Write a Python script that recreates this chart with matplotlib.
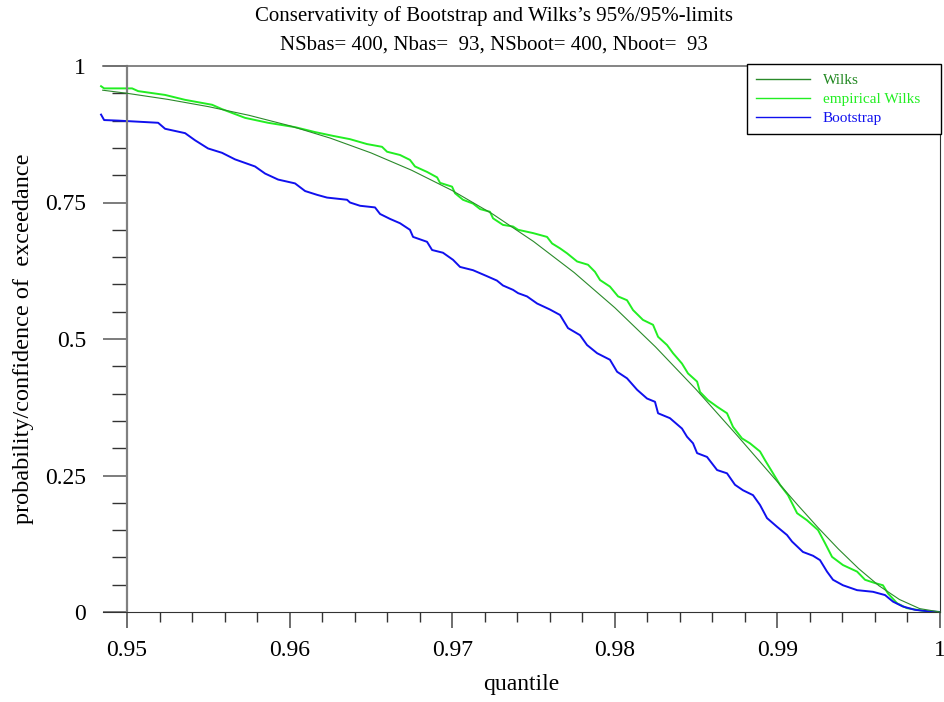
import matplotlib
matplotlib.use("Agg")
import matplotlib.pyplot as plt
from matplotlib.ticker import MultipleLocator, FixedLocator

plt.rcParams['font.family'] = ['Liberation Serif', 'DejaVu Serif']

# Wilks curve
wilks_q = [0.9485, 0.95, 0.9525, 0.955, 0.9575, 0.96, 0.9625, 0.965, 0.9675,
           0.97, 0.9725, 0.975, 0.9775, 0.98, 0.9825, 0.985, 0.9875, 0.99,
           0.99125, 0.9925, 0.99375, 0.995, 0.99625, 0.9975, 0.99875, 1.0]
wilks_p = [0.9557, 0.9500, 0.9389, 0.9256, 0.9097, 0.8906, 0.8679, 0.8409, 0.8091,
           0.7719, 0.7286, 0.6786, 0.6217, 0.5573, 0.4856, 0.4075, 0.3241, 0.2384,
           0.1959, 0.1545, 0.1154, 0.0794, 0.0480, 0.0230, 0.0062, 0.0]

emp_q = [0.9484, 0.94859, 0.95031, 0.95068, 0.95234, 0.95357, 0.95523, 0.95584,
         0.95726, 0.95867, 0.96033, 0.96156, 0.96267, 0.96371, 0.96476, 0.96568,
         0.96599, 0.96679, 0.96740, 0.96771, 0.96845, 0.96907, 0.96925, 0.96999,
         0.97017, 0.97066, 0.97128, 0.97171, 0.97232, 0.97251, 0.97312, 0.97374,
         0.97405, 0.97497, 0.97583, 0.97614, 0.97663, 0.97706, 0.97768, 0.97835,
         0.97878, 0.97909, 0.97970, 0.98020, 0.98075, 0.98112, 0.98173, 0.98235,
         0.98266, 0.98321, 0.98358, 0.98413, 0.98450, 0.98506, 0.98524, 0.98573,
         0.98629, 0.98690, 0.98727, 0.98782, 0.98831, 0.98893, 0.98924, 0.98967,
         0.99016, 0.99065, 0.99121, 0.99182, 0.99250, 0.99293, 0.99336, 0.99403,
         0.99490, 0.99539, 0.99600, 0.99649, 0.99680, 0.99736, 0.99797, 0.99920, 1.0]
emp_p = [0.963, 0.959, 0.959, 0.954, 0.947, 0.938, 0.929, 0.921,
         0.905, 0.896, 0.888, 0.879, 0.872, 0.866, 0.857, 0.852,
         0.843, 0.837, 0.828, 0.816, 0.806, 0.796, 0.786, 0.779,
         0.767, 0.755, 0.748, 0.738, 0.733, 0.721, 0.709, 0.706,
         0.700, 0.694, 0.687, 0.675, 0.666, 0.657, 0.642, 0.636,
         0.623, 0.608, 0.596, 0.578, 0.571, 0.553, 0.535, 0.526,
         0.504, 0.489, 0.474, 0.455, 0.437, 0.422, 0.403, 0.388,
         0.376, 0.364, 0.339, 0.318, 0.309, 0.294, 0.278, 0.257,
         0.233, 0.214, 0.181, 0.168, 0.150, 0.126, 0.101, 0.086,
         0.074, 0.059, 0.053, 0.049, 0.034, 0.016, 0.007, 0.001, 0.0]

boot_q = [0.9484, 0.94859, 0.94945, 0.95191, 0.95234, 0.95357, 0.95418, 0.95498,
          0.95584, 0.95664, 0.95787, 0.95849, 0.95929, 0.96033, 0.96095, 0.96169,
          0.96230, 0.96292, 0.96353, 0.96371, 0.96433, 0.96525, 0.96556, 0.96617,
          0.96679, 0.96740, 0.96759, 0.96845, 0.96876, 0.96943, 0.97005, 0.97048,
          0.97128, 0.97214, 0.97275, 0.97312, 0.97374, 0.97405, 0.97460, 0.97522,
          0.97601, 0.97663, 0.97712, 0.97786, 0.97829, 0.97891, 0.97970, 0.98014,
          0.98075, 0.98137, 0.98198, 0.98247, 0.98266, 0.98339, 0.98413, 0.98444,
          0.98481, 0.98506, 0.98567, 0.98629, 0.98690, 0.98739, 0.98788, 0.98850,
          0.98893, 0.98936, 0.98998, 0.99059, 0.99090, 0.99157, 0.99219, 0.99262,
          0.99305, 0.99342, 0.99403, 0.99490, 0.99588, 0.99662, 0.99711, 0.99772,
          0.99846, 0.99939, 1.0]
boot_p = [0.911, 0.901, 0.900, 0.896, 0.885, 0.877, 0.864, 0.849,
          0.841, 0.829, 0.816, 0.803, 0.792, 0.785, 0.771, 0.764,
          0.759, 0.757, 0.755, 0.750, 0.744, 0.741, 0.729, 0.720,
          0.712, 0.700, 0.687, 0.678, 0.663, 0.658, 0.645, 0.632,
          0.626, 0.615, 0.607, 0.598, 0.590, 0.584, 0.578, 0.565,
          0.554, 0.544, 0.520, 0.507, 0.489, 0.474, 0.462, 0.440,
          0.428, 0.407, 0.391, 0.385, 0.364, 0.355, 0.336, 0.321,
          0.309, 0.291, 0.284, 0.260, 0.254, 0.233, 0.223, 0.214,
          0.196, 0.172, 0.156, 0.141, 0.129, 0.110, 0.103, 0.095,
          0.074, 0.059, 0.049, 0.040, 0.037, 0.031, 0.019, 0.010,
          0.004, 0.001, 0.0]

x_major = [0.95, 0.96, 0.97, 0.98, 0.99, 1.0]
x_labels = ["0.95", "0.96", "0.97", "0.98", "0.99", "1"]
y_major = [0, 0.25, 0.5, 0.75, 1]
y_labels = ["0", "0.25", "0.5", "0.75", "1"]

fig = plt.figure(figsize=(9.45, 7.02), dpi=100)
ax = fig.add_axes([103 / 945, 1 - 612 / 702, 837 / 945, 546 / 702])

ax.plot(wilks_q, wilks_p, color="#2a8a2a", lw=0.8, label="Wilks", clip_on=False, zorder=3)
ax.plot(emp_q, emp_p, color="#22ee22", lw=1.4, label="empirical Wilks   ", clip_on=False, zorder=2)
ax.plot(boot_q, boot_p, color="#1010ee", lw=1.4, label="Bootstrap", clip_on=False, zorder=2)

ax.set_xlim(0.94852, 1.0)
ax.set_ylim(0, 1)

ax.spines['left'].set_position(('data', 0.95))
ax.spines['left'].set_color("#808080")
ax.spines['left'].set_linewidth(1.6)
ax.spines['top'].set_color("#707070")
ax.spines['top'].set_linewidth(1.2)
ax.spines['bottom'].set_color("#333333")
ax.spines['right'].set_color("#333333")

ax.xaxis.set_major_locator(FixedLocator(x_major))
ax.set_xticklabels(x_labels)
ax.xaxis.set_minor_locator(MultipleLocator(0.002))
ax.yaxis.set_major_locator(FixedLocator(y_major))
ax.set_yticklabels(y_labels)
ax.yaxis.set_minor_locator(MultipleLocator(0.05))

ax.tick_params(axis='x', which='major', direction='out', length=11.5, width=1.2,
               color="#555555", labelsize=17, pad=9)
ax.tick_params(axis='x', which='minor', direction='out', length=7, width=1.0, color="#333333")
ax.tick_params(axis='y', which='major', direction='out', length=17.5, width=1.2,
               color="#666666", labelsize=17, pad=12)
ax.tick_params(axis='y', which='minor', direction='out', length=11, width=1.0, color="#333333")

ax.set_xlabel("quantile", fontsize=17, labelpad=9)
ax.set_ylabel("probability/confidence of  exceedance", fontsize=17.5, labelpad=8)

fig.text(494 / 945, 1 - 16 / 702, "Conservativity of Bootstrap and Wilks\u2019s 95%/95%-limits",
         ha="center", va="center", fontsize=15)
fig.text(494 / 945, 1 - 45 / 702, "NSbas= 400, Nbas=  93, NSboot= 400, Nboot=  93",
         ha="center", va="center", fontsize=15)

leg = ax.legend(loc="upper right", bbox_to_anchor=(941 / 945, 1 - 64 / 702),
                bbox_transform=fig.transFigure, fontsize=11, labelcolor="linecolor",
                fancybox=False, framealpha=1, edgecolor="black", handlelength=3.5,
                handletextpad=0.85, borderpad=0.6, labelspacing=0.35, borderaxespad=0)
leg.get_frame().set_linewidth(1.0)
for h in leg.get_lines():
    h.set_linewidth(1.0)
leg.get_texts()[0].set_color("#228822")
leg.set_zorder(5)

fig.savefig("out.png", dpi=100)
